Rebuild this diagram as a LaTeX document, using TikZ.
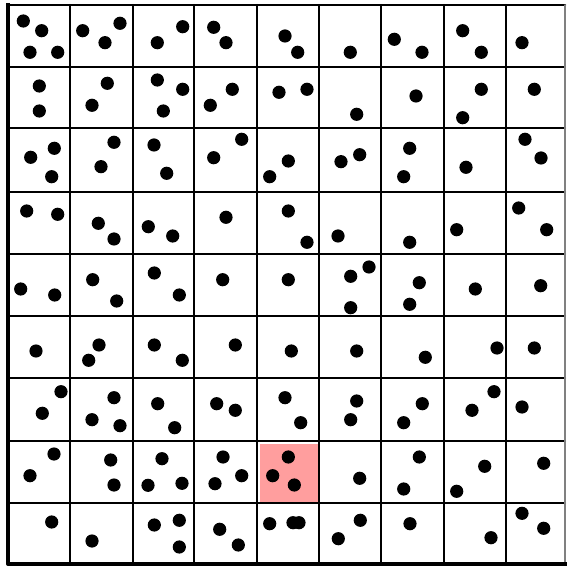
\documentclass[tikz,border=0pt]{standalone}
\usepackage{tikz}

\begin{document}
\begin{tikzpicture}[line cap=round,line join=round,x=0.5pt,y=-0.5pt]
\useasboundingbox (0,0) rectangle (567,566);
% marked cell
\fill[color=red!38] (260,443.5) rectangle (318.5,502.5);
% grid
\foreach \xx in {70,132.7,194.3,256.7,319.3,381.3,443.7,506.3}
  \draw[line width=1pt] (\xx,5) -- (\xx,564);
\foreach \yy in {66.7,128.3,192.3,254.3,316,378.3,441,503.3}
  \draw[line width=1pt] (8,\yy) -- (565,\yy);
\draw[line width=1.3pt] (8,5) -- (565,5);
\draw[line width=0.6pt,color=gray] (565,5) -- (565,564);
\draw[line width=2pt,line cap=rect] (8,5) -- (8,564) -- (565,564);
% points, row by row
\foreach \a/\b in {23.3/21,41.7/30.7,30/52.3,57.7/52.3, 82.7/30.7,120/23.3,105/42.7,
  157.3/42.7,182.7/26.7, 213.7/27.3,226/42.7, 285/36,297.7/52.3, 350.3/52.3,
  394.3/39.3,422/52.3, 462.7/30.7,481.3/52.3, 522/42.7}
  \fill (\a,\b) circle (3.3pt);
\foreach \a/\b in {39.3/86,39.3/111, 107.3/83.3,92/105.3, 157.3/80,182.7/89.3,163.3/111,
  232.3/89.3,210.3/105.3, 279/92.3,307/89.3, 356.7/114.3, 416/96,
  481.3/89.3,462.7/117.7, 534.3/89.3}
  \fill (\a,\b) circle (3.3pt);
\foreach \a/\b in {30.7/157.3,54.3/148.3,51.7/176.7, 114/142.3,101/166.7, 154/145,166.7/173.3,
  241.7/139.3,213.7/157.7, 288.3/161,269.7/176.7, 341/161.7,359.7/154.7,
  409.7/148.3,403.7/176.7, 466/167.3, 525/139.3,541/158}
  \fill (\a,\b) circle (3.3pt);
\foreach \a/\b in {26.7/211,57.7/214.3, 98.3/223.3,114/239, 148.3/226.7,172.7/236,
  226/217.3, 288.3/211,307/242.3, 338/236, 409.7/242.3, 456.7/229.7,
  518.7/208,546.7/229.7}
  \fill (\a,\b) circle (3.3pt);
\foreach \a/\b in {20.7/289,54.7/295, 92.7/279.7,116.7/301, 154.3/273,179.3/295,
  222.7/279.7, 288.3/279.7, 350.7/276.3,369/267,350.7/307.7,
  419.3/282.7,409.7/304.3, 475.3/289, 540.7/285.7}
  \fill (\a,\b) circle (3.3pt);
\foreach \a/\b in {36/351, 99/345,88.7/360.3, 154.3/345,182.3/360.3, 235.3/345,
  291.3/351, 356.7/351, 425.3/357.3, 497/348, 534.3/348}
  \fill (\a,\b) circle (3.3pt);
\foreach \a/\b in {61/391.7,42.3/413.3, 114/397.7,92/419.7,120/425.7, 157.7/403.7,174.7/427.7,
  216.7/403.7,235.3/410.3, 285/397.7,300.7/422.7, 356.7/401,350.7/419.7,
  422.3/403.7,403.7/422.7, 494/391.7,472/410.3, 522/407}
  \fill (\a,\b) circle (3.3pt);
\foreach \a/\b in {54/454,30/475.7, 110.7/460,114/485, 162/458.7,148/485.3,182/483.3,
  223/457,241.7/475.7,215/483.7, 288.3/457,272.7/475.7,294.3/485, 359.7/478.3,
  419.3/457,403.7/489, 484.7/466.3,456.7/491.3, 543.7/463.3}
  \fill (\a,\b) circle (3.3pt);
\foreach \a/\b in {51.7/522, 92/541, 154.3/525,179.3/520.3,179.3/547, 219.7/529.3,238.3/545,
  269.7/523.7,293/522.7,299/522.7, 360.3/520.3,338.3/538.7, 410/523.7,
  491/537.7, 522/513.3,543.7/528.3}
  \fill (\a,\b) circle (3.3pt);
\end{tikzpicture}
\end{document}
